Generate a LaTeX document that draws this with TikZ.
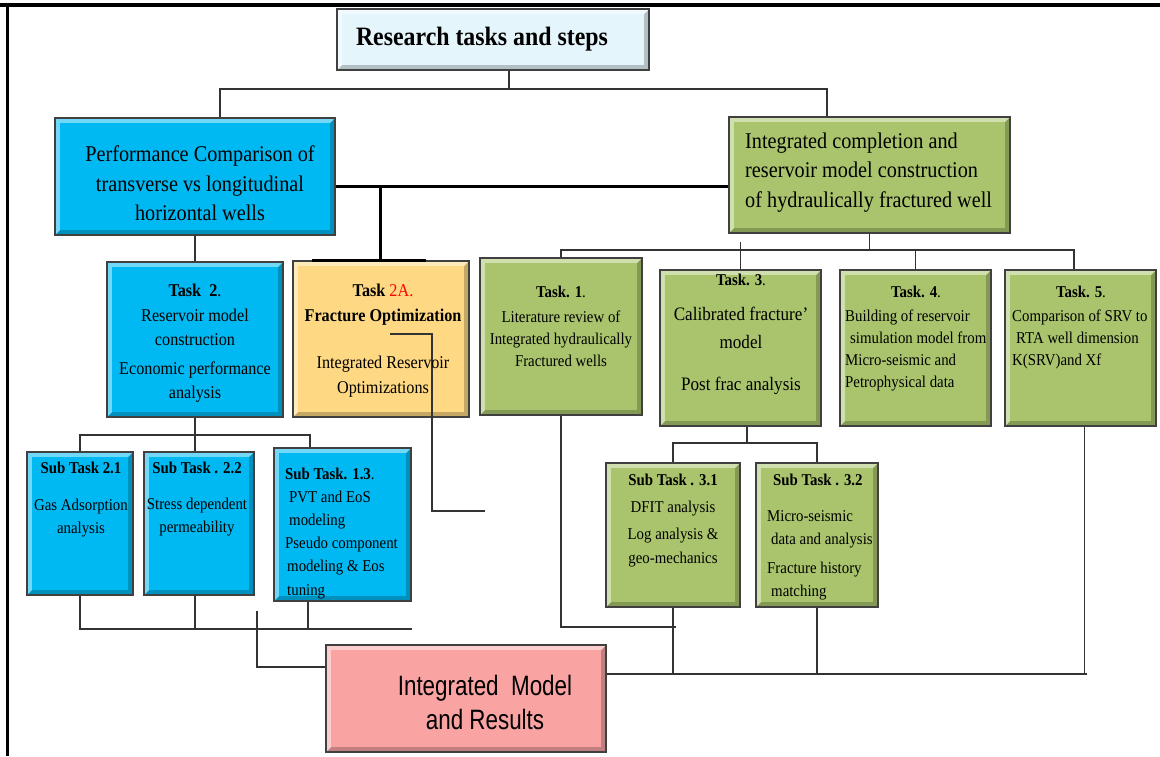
\documentclass[tikz,border=0pt]{standalone}
\usepackage{fontspec}
\setmainfont{Liberation Serif}[FakeStretch=0.9]
\newfontfamily\sansres{Liberation Sans}[FakeStretch=0.8]
\usetikzlibrary{calc}

\definecolor{blueface}{HTML}{00B9F2}
\definecolor{greenface}{HTML}{A9C46C}
\definecolor{goldface}{HTML}{FED882}
\definecolor{pinkface}{HTML}{F9A3A3}
\definecolor{titleface}{HTML}{E4F5FB}

\tikzset{
  bevel/.style={draw=black!75, line width=1.5pt, fill=#1!78!black, inner sep=0pt,
    path picture={
      \fill[#1!55!white] (path picture bounding box.north west) -- (path picture bounding box.north east)
        -- ([shift={(-5pt,-5pt)}]path picture bounding box.north east) -- ([shift={(5pt,-5pt)}]path picture bounding box.north west)
        -- ([shift={(5pt,5pt)}]path picture bounding box.south west) -- (path picture bounding box.south west) -- cycle;
      \fill[#1] ([shift={(5pt,-5pt)}]path picture bounding box.north west) rectangle ([shift={(-5pt,5pt)}]path picture bounding box.south east);
    }},
  link/.style={draw=black!80, line width=1.3pt},
  heavy/.style={draw=black, line width=3pt},
  txt/.style={inner sep=0pt, align=center},
}

\begin{document}
\begin{tikzpicture}[x=1pt, y=-1pt,
  bigtxt/.style={font=\fontsize{22.5}{29.5}\selectfont},
  midtxt/.style={font=\fontsize{18}{24.5}\selectfont},
  smalltxt/.style={font=\fontsize{16.5}{22}\selectfont},
  headtxt/.style={font=\bfseries\fontsize{16.5}{22}\selectfont}]
\useasboundingbox (0,0) rectangle (1160,756);
% frame
\draw[line width=4pt] (0,5) -- (1160,5);
\draw[line width=3pt] (7,5) -- (7,756);

% boxes
\node[bevel=titleface, minimum width=312pt, minimum height=61pt] (title) at (493,39.5) {};
\node[bevel=blueface, minimum width=280pt, minimum height=117pt] (perf) at (195,176.5) {};
\node[bevel=greenface, minimum width=281pt, minimum height=116pt] (integ) at (869.5,175) {};
\node[bevel=blueface, minimum width=176pt, minimum height=155pt] (t2) at (195,339.5) {};
\node[bevel=goldface, minimum width=176pt, minimum height=156pt] (t2a) at (381,339) {};
\node[bevel=greenface, minimum width=162pt, minimum height=157pt] (t1) at (561,336.5) {};
\node[bevel=greenface, minimum width=161pt, minimum height=156pt] (t3) at (740.5,348) {};
\node[bevel=greenface, minimum width=151pt, minimum height=156pt] (t4) at (915.5,348) {};
\node[bevel=greenface, minimum width=151pt, minimum height=156pt] (t5) at (1080.5,348) {};
\node[bevel=blueface, minimum width=106pt, minimum height=143pt] (s21) at (80,523.5) {};
\node[bevel=blueface, minimum width=110pt, minimum height=143pt] (s22) at (199,523.5) {};
\node[bevel=blueface, minimum width=137pt, minimum height=153pt] (s13) at (342.5,524.5) {};
\node[bevel=greenface, minimum width=134pt, minimum height=144pt] (s31) at (673,535) {};
\node[bevel=greenface, minimum width=122pt, minimum height=144pt] (s32) at (817,535) {};
\node[bevel=pinkface, minimum width=280pt, minimum height=107pt] (res) at (466,698.5) {};

% connectors
\coordinate (j0) at (509,89);
\coordinate (jl) at (220,89);
\coordinate (jr) at (827,89);
\draw[link] (title.south -| j0) -- (j0);
\draw[link] (jl |- perf.north) -- (jl) -- (jr) -- (jr |- integ.north);

\coordinate (j1) at (380,186);
\draw[heavy] (perf.east |- j1) -- (integ.west |- j1);
\draw[heavy] (j1) -- (j1 |- t2a.north);
\draw[heavy] ([xshift=-69pt]t2a.north) -- ([xshift=45pt]t2a.north);

\draw[link] (perf.south) -- (t2.north);

\coordinate (j2) at (868,250);
\coordinate (jt5) at (1074,250);
\draw[link] (integ.south) -- (integ.south |- j2);
\draw[link] (t1.north) |- (jt5) -- (jt5 |- t5.north);
\draw[link] (t3.north) -- ++(0,-27);
\draw[link] (t4.north) -- (t4.north |- j2);

\coordinate (j3) at (747,443);
\draw[link] (t3.south -| j3) -- (j3);
\draw[link] (s31.north) |- (j3) -| (s32.north);

\coordinate (j4) at (195,435);
\coordinate (j5) at (310,435);
\draw[link] (t2.south) -- (j4);
\draw[link] (s21.north) |- (j5) -- (j5 |- s13.north);
\draw[link] (j4) -- (j4 |- s22.north);

\coordinate (j6) at (412,629);
\coordinate (j6b) at (308,629);
\draw[link] (s21.south) |- (j6);
\draw[link] (j4 |- s22.south) -- (j4 |- j6);
\draw[link] (j6b |- s13.south) -- (j6b);

\coordinate (c1) at (257,611);
\coordinate (c2) at (257,667);
\draw[link] (c1) -- (c2) -- (c2 -| res.west);

\coordinate (c3) at (390,334);
\coordinate (c4) at (485,511);
\draw[link] (c3) -- ++(42,0) |- (c4);

\coordinate (j9) at (676,627);
\coordinate (jb) at (1087,674);
\draw[link] (t1.south) |- (j9);
\draw[link] (s31.south) -- (s31.south |- jb);
\draw[link] (s32.south) -- (s32.south |- jb);
\draw[link] (res.east |- jb) -- (jb);
\draw[link] ([xshift=4pt]t5.south) -- ([xshift=4pt]t5.south |- jb);

% texts
\node[txt, anchor=base, font=\bfseries\fontsize{26.5}{30}\selectfont] (titletxt) at (482,45) {Research tasks and steps};
\node[txt, bigtxt, anchor=north] (perftxt) at (200,145.5) {Performance Comparison of\\transverse vs longitudinal\\horizontal wells};
\node[txt, bigtxt, anchor=north west, align=left] (integtxt) at (745,132.5) {Integrated completion and\\reservoir model construction\\of hydraulically fractured well};
\node[txt, midtxt, anchor=north] (t2txt) at (195,284) {\textbf{Task\ \ 2}.\\Reservoir model\\construction\\[4pt]Economic performance\\analysis};
\node[txt, midtxt, anchor=north] (t2atxt) at (383,284) {\textbf{Task} \textcolor{red}{2A.}\\\textbf{Fracture Optimization}\\[23pt]Integrated Reservoir\\Optimizations};
\node[txt, smalltxt, anchor=north] (t1txt) at (561,285.4) {\textbf{Task. 1}.\\[3pt]Literature review of\\Integrated hydraulically\\Fractured wells};
\node[txt, headtxt, anchor=base] (t3head) at (741,285.6) {Task. 3\textmd{.}};
\node[txt, anchor=north, font=\fontsize{19}{28}\selectfont] (t3txt) at (741,306.5) {Calibrated fracture'\\model\\[14pt]Post frac analysis};
\node[txt, headtxt, anchor=base] (t4head) at (916,297.8) {Task. 4\textmd{.}};
\node[txt, smalltxt, anchor=north west, align=left] (t4txt) at (845,309.4) {Building of reservoir\\\hspace*{5pt}simulation model from\\Micro-seismic and\\Petrophysical data};
\node[txt, headtxt, anchor=base] (t5head) at (1081,297.8) {Task. 5\textmd{.}};
\node[txt, smalltxt, anchor=north west, align=left] (t5txt) at (1012,309.4) {Comparison of SRV to\\\hspace*{4pt}RTA well dimension\\K(SRV)and Xf};
\node[txt, font=\fontsize{16.5}{23}\selectfont, anchor=north] (s21txt) at (81,461.4) {\textbf{Sub Task 2.1}\\[14pt]Gas Adsorption\\analysis};
\node[txt, font=\fontsize{16.5}{23}\selectfont, anchor=north] (s22txt) at (197,461.4) {\textbf{Sub Task . 2.2}\\[13pt]Stress dependent\\permeability};
\node[txt, font=\fontsize{16.5}{23.2}\selectfont, anchor=north west, align=left] (s13txt) at (285,467.4) {\textbf{Sub Task. 1.3}.\\\hspace*{4pt}PVT and EoS\\\hspace*{4pt}modeling\\Pseudo component\\\hspace*{2pt}modeling \& Eos\\\hspace*{2pt}tuning};
\node[txt, font=\fontsize{16.5}{24}\selectfont, anchor=north] (s31txt) at (673,473.4) {\textbf{Sub Task . 3.1}\\[3pt]DFIT analysis\\[3pt]Log analysis \&\\geo-mechanics};
\node[txt, font=\fontsize{16.5}{23}\selectfont, anchor=north west, align=left] (s32txt) at (767,473.4) {\hspace*{6pt}\textbf{Sub Task . 3.2}\\[13pt]Micro-seismic\\\hspace*{4pt}data and analysis\\[6pt]Fracture history\\\hspace*{4pt}matching};
\node[txt, font=\sansres\fontsize{28}{34}\selectfont] (restxt) at (485,702) {Integrated~ Model\\and Results};
\end{tikzpicture}
\end{document}
